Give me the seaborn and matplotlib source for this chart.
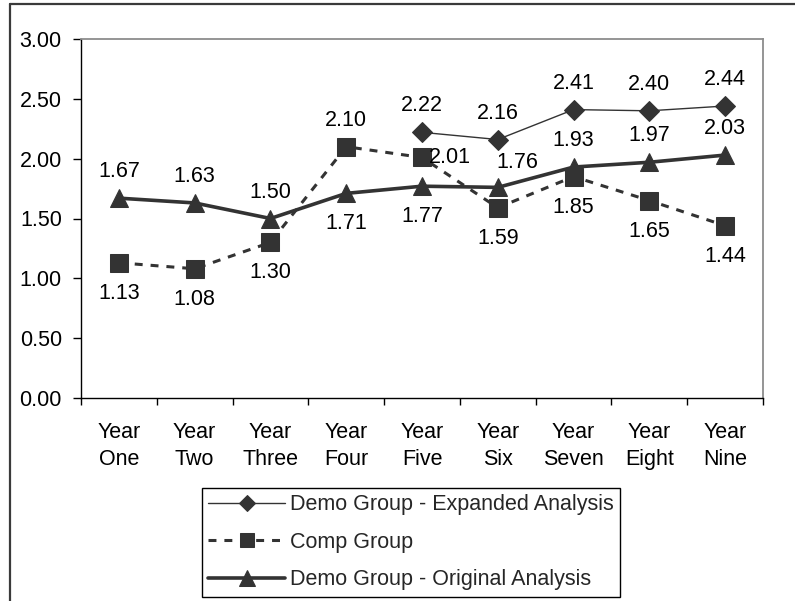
import numpy as np
import pandas as pd
import matplotlib
matplotlib.use("Agg")
import matplotlib.pyplot as plt
import seaborn as sns
from matplotlib.lines import Line2D

# ---- data -------------------------------------------------------------
categories = ["Year\nOne", "Year\nTwo", "Year\nThree", "Year\nFour", "Year\nFive",
              "Year\nSix", "Year\nSeven", "Year\nEight", "Year\nNine"]
expanded = [np.nan, np.nan, np.nan, np.nan, 2.22, 2.16, 2.41, 2.40, 2.44]
comp = [1.13, 1.08, 1.30, 2.10, 2.01, 1.59, 1.85, 1.65, 1.44]
original = [1.67, 1.63, 1.50, 1.71, 1.77, 1.76, 1.93, 1.97, 2.03]
y_ticks = [0.0, 0.5, 1.0, 1.5, 2.0, 2.5, 3.0]

series_names = ["Demo Group - Expanded Analysis", "Comp Group",
                "Demo Group - Original Analysis"]

# where each value label sits relative to its point
expanded_pos = [None, None, None, None, "above", "above", "above", "above", "above"]
comp_pos = ["below", "below", "below", "above", "right", "below", "below", "below", "below"]
original_pos = ["above", "above", "above", "below", "below", "above_right",
                "above", "above", "above"]

# ---- style ------------------------------------------------------------
sns.set_style("white")
FS = 15.5
plt.rcParams["font.family"] = ["Liberation Sans", "DejaVu Sans"]
plt.rcParams["font.size"] = FS
ink = "#333333"

df = pd.DataFrame({"pos": np.arange(len(categories)),
                   series_names[0]: expanded,
                   series_names[1]: comp,
                   series_names[2]: original})

fig = plt.figure(figsize=(7.95, 6.01), dpi=100)
ax = fig.add_axes([81 / 795, 1 - 398 / 601, (763 - 81) / 795, (398 - 39) / 601])

sns.lineplot(data=df, x="pos", y=series_names[0], ax=ax, color=ink, lw=1.0,
             marker="D", markersize=9.7, markeredgecolor=ink, markerfacecolor=ink,
             label=series_names[0])
sns.lineplot(data=df, x="pos", y=series_names[1], ax=ax, color=ink, lw=2.2,
             marker="s", markersize=12.5, markeredgecolor=ink, markerfacecolor=ink,
             dashes=False, label=series_names[1])
sns.lineplot(data=df, x="pos", y=series_names[2], ax=ax, color=ink, lw=2.6,
             marker="^", markersize=13.5, markeredgecolor=ink, markerfacecolor=ink,
             label=series_names[2])
ax.lines[1].set_linestyle((0, (2.6, 2.6)))

# ---- value labels -----------------------------------------------------
offsets = {"above": (0, 19), "below": (0, -22), "right": (20, 0),
           "above_right": (14, 18)}
for vals, places in ((expanded, expanded_pos), (comp, comp_pos), (original, original_pos)):
    for i, (v, p) in enumerate(zip(vals, places)):
        if p is None or np.isnan(v):
            continue
        ax.annotate(f"{v:.2f}", (i, v), xytext=offsets[p], textcoords="offset points",
                    ha="center", va="center", fontsize=FS, color="black")

# ---- axes -------------------------------------------------------------
ax.set_xlim(-0.5, len(categories) - 0.5)
ax.set_ylim(0, 3)
ax.set_yticks(y_ticks)
ax.set_yticklabels([f"{t:.2f}" for t in y_ticks])
ax.set_xlabel("")
ax.set_ylabel("")

# category boundaries carry the tick marks, centres carry the names
ax.set_xticks(np.arange(-0.5, len(categories), 1.0))
ax.set_xticklabels([])
ax.set_xticks(np.arange(len(categories)), minor=True)
ax.set_xticklabels(categories, minor=True, linespacing=1.4, fontsize=FS)
ax.tick_params(axis="x", which="major", direction="out", length=5, width=1,
               color="black", bottom=True)
ax.tick_params(axis="x", which="minor", length=0, pad=17, labelsize=FS,
               labelcolor="black", bottom=True)
ax.tick_params(axis="y", direction="out", length=5.8, width=1, color="black",
               pad=8, labelsize=FS, labelcolor="black", left=True)

for side in ("left", "bottom"):
    ax.spines[side].set_color("black")
    ax.spines[side].set_linewidth(1.0)
for side in ("top", "right"):
    ax.spines[side].set_color("#8c8c8c")
    ax.spines[side].set_linewidth(1.3)
ax.grid(False)

# ---- legend -----------------------------------------------------------
ax.get_legend().remove()
handles = ax.lines[:3]
leg = fig.legend(handles, series_names, loc="upper left",
                 bbox_to_anchor=(202 / 795, 1 - 488 / 601), frameon=True,
                 fancybox=False, edgecolor="black", framealpha=1, fontsize=FS,
                 handlelength=3.55, handletextpad=0.25, labelspacing=0.76,
                 borderpad=0.3, borderaxespad=0, markerscale=0.85, numpoints=1)
leg.get_frame().set_linewidth(1.0)

# ---- outer chart frame ------------------------------------------------
frame_kw = dict(transform=fig.transFigure, color="#3a3a3a", lw=1.6)
fig.add_artist(Line2D([10 / 795, 1.0], [1 - 4 / 601, 1 - 4 / 601], **frame_kw))
fig.add_artist(Line2D([10 / 795, 10 / 795], [0.0, 1 - 4 / 601], **frame_kw))

fig.savefig("out.png", dpi=100)
